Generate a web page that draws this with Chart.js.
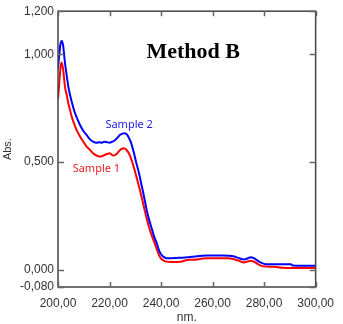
<!DOCTYPE html>
<html>
<head>
<meta charset="utf-8">
<script src="https://cdn.jsdelivr.net/npm/chart.js@4/dist/chart.umd.min.js"></script>
<style>
  html, body { margin: 0; padding: 0; background: #fff; }
  canvas { display: block; }
</style>
</head>
<body>
<canvas id="chart" width="343" height="324"></canvas>
<script>
// Sample 2 (blue)
const s2Nm = [200, 200.5, 201, 201.5, 202, 202.7, 203.4, 204, 204.7, 205.3, 206, 206.6, 207.5, 208.5, 209.8, 211.1, 212.4, 213.6, 215, 216, 217, 218, 219, 220, 221, 222, 223, 224, 225, 225.9, 226.8, 227.6, 228.4, 229.4, 230.4, 231.4, 232.3, 233.3, 234.4, 235.3, 236.3, 237.3, 238.3, 239.2, 240, 241, 242, 244, 246, 248, 250, 252, 254, 256, 258, 260, 262, 264, 266, 268, 270, 272.2, 273.5, 274.8, 276, 277.5, 279, 280.6, 284, 288, 290.4, 291, 295, 300];
const s2Abs = [0.93, 1.0, 1.05, 1.062, 1.04, 0.96, 0.9, 0.85, 0.81, 0.781, 0.75, 0.727, 0.7, 0.673, 0.645, 0.626, 0.605, 0.595, 0.59, 0.592, 0.59, 0.594, 0.592, 0.59, 0.594, 0.6, 0.612, 0.625, 0.632, 0.634, 0.627, 0.61, 0.588, 0.545, 0.495, 0.45, 0.4, 0.345, 0.278, 0.235, 0.195, 0.155, 0.124, 0.09, 0.072, 0.06, 0.054, 0.054, 0.055, 0.056, 0.058, 0.06, 0.063, 0.065, 0.066, 0.066, 0.066, 0.066, 0.065, 0.063, 0.055, 0.048, 0.052, 0.058, 0.054, 0.042, 0.032, 0.026, 0.026, 0.026, 0.026, 0.02, 0.019, 0.019];

// Sample 1 (red)
const s1Nm = [200, 200.5, 201, 201.4, 202, 202.7, 203.4, 204, 204.7, 205.3, 206.2, 207.2, 208.5, 209.8, 211.1, 212.4, 213.7, 215, 216, 217, 218, 219, 220.1, 221.4, 222.5, 223.5, 224.5, 225.5, 226.6, 227.8, 228.8, 229.7, 230.7, 231.7, 232.7, 233.6, 234.5, 235.5, 236.5, 237.5, 238.5, 239.5, 240.5, 241.7, 244, 247.5, 249, 251, 254, 256, 258, 262, 266, 268, 270, 272.2, 273.5, 274.8, 276, 277.5, 279, 280.6, 284, 287, 292, 300];
const s1Abs = [0.79, 0.87, 0.94, 0.962, 0.93, 0.85, 0.81, 0.773, 0.74, 0.711, 0.68, 0.649, 0.62, 0.595, 0.572, 0.557, 0.54, 0.53, 0.526, 0.527, 0.532, 0.537, 0.541, 0.53, 0.535, 0.548, 0.56, 0.564, 0.556, 0.533, 0.5, 0.464, 0.42, 0.375, 0.325, 0.278, 0.235, 0.19, 0.155, 0.124, 0.09, 0.06, 0.046, 0.039, 0.036, 0.037, 0.042, 0.046, 0.048, 0.052, 0.054, 0.054, 0.053, 0.05, 0.043, 0.034, 0.038, 0.042, 0.038, 0.027, 0.018, 0.015, 0.014, 0.009, 0.008, 0.008];

const yTicks = [-0.08, 0, 0.5, 1.0, 1.2];

const toPts = (xs, ys) => xs.map((x, i) => ({ x, y: ys[i] }));

// frame + tick marks pointing inward, plus the in-plot texts
const frame = {
  id: 'frame',
  afterDatasetsDraw(chart) {
    const { ctx, chartArea: a, scales: { x, y } } = chart;
    ctx.save();
    ctx.strokeStyle = '#444';
    ctx.lineWidth = 1.5;
    ctx.strokeRect(a.left, a.top, a.right - a.left, a.bottom - a.top);
    ctx.strokeStyle = '#666';
    x.ticks.forEach(t => {
      const px = Math.round(x.getPixelForValue(t.value)) + 0.5;
      ctx.beginPath();
      ctx.moveTo(px, a.bottom); ctx.lineTo(px, a.bottom - 5);
      ctx.moveTo(px, a.top); ctx.lineTo(px, a.top + 5);
      ctx.stroke();
    });
    y.ticks.forEach(t => {
      const py = Math.round(y.getPixelForValue(t.value)) + 0.5;
      ctx.beginPath();
      ctx.moveTo(a.left, py); ctx.lineTo(a.left + 6, py);
      ctx.moveTo(a.right, py); ctx.lineTo(a.right - 6, py);
      ctx.stroke();
    });

    ctx.textAlign = 'center';
    ctx.textBaseline = 'alphabetic';
    ctx.fillStyle = '#000';
    ctx.font = 'bold 22px "Liberation Serif", "Times New Roman", serif';
    ctx.fillText('Method B', x.getPixelForValue(252.5), y.getPixelForValue(0.983));

    ctx.textBaseline = 'middle';
    ctx.font = '11px "Noto Sans", "Liberation Sans", sans-serif';
    ctx.fillStyle = '#2222ee';
    ctx.fillText('Sample 2', x.getPixelForValue(227.6), y.getPixelForValue(0.672));
    ctx.fillStyle = '#ee2222';
    ctx.fillText('Sample 1', x.getPixelForValue(214.9), y.getPixelForValue(0.468));
    ctx.restore();
  }
};

new Chart(document.getElementById('chart'), {
  type: 'line',
  data: {
    datasets: [
      { label: 'Sample 2', data: toPts(s2Nm, s2Abs), borderColor: '#0000ff', borderWidth: 2, pointRadius: 0, cubicInterpolationMode: 'monotone' },
      { label: 'Sample 1', data: toPts(s1Nm, s1Abs), borderColor: '#ff0000', borderWidth: 2, pointRadius: 0, cubicInterpolationMode: 'monotone' },
    ],
  },
  options: {
    responsive: false,
    animation: false,
    layout: { padding: { top: 11, right: 26, left: 0, bottom: 0 } },
    plugins: { legend: { display: false }, tooltip: { enabled: false } },
    scales: {
      x: {
        type: 'linear', min: 200, max: 300,
        grid: { display: false, drawTicks: false },
        border: { display: false },
        ticks: { stepSize: 20, padding: 9, color: '#333', font: { family: '"Liberation Sans", Arial, sans-serif', size: 12 }, maxRotation: 0,
                 callback: v => v.toFixed(2).replace('.', ',') },
        title: { display: true, text: 'nm.', color: '#333', padding: { top: 0, bottom: -1 }, font: { family: '"Liberation Sans", Arial, sans-serif', size: 12 } },
        afterFit: s => { s.height = 37; },
      },
      y: {
        type: 'linear', min: -0.08, max: 1.2,
        grid: { display: false, drawTicks: false },
        border: { display: false },
        afterBuildTicks: s => { s.ticks = yTicks.map(v => ({ value: v })); },
        ticks: { padding: 4, color: '#333', font: { family: '"Liberation Sans", Arial, sans-serif', size: 12 },
                 callback: v => v.toFixed(3).replace('.', ',') },
        title: { display: true, text: 'Abs.', color: '#333', padding: { top: 1, bottom: 0 }, font: { family: '"Liberation Sans", Arial, sans-serif', size: 11 } },
        afterFit: s => { s.width = 58; },
      },
    },
  },
  plugins: [frame],
});
</script>
</body>
</html>
